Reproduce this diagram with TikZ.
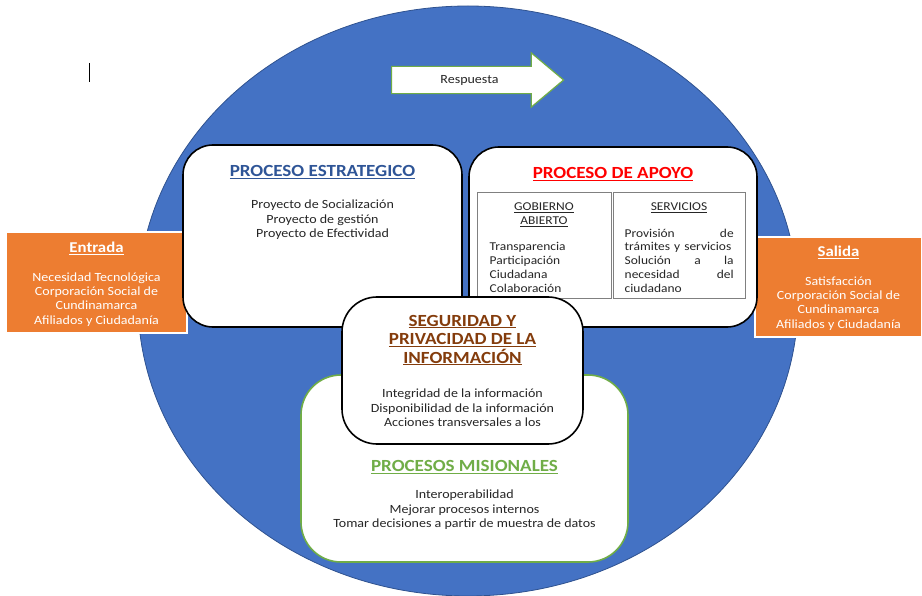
\documentclass[tikz,border=0pt]{standalone}
\usepackage{fontspec}
\setmainfont{Carlito}[FakeStretch=1.12]
\usetikzlibrary{positioning}
\usetikzlibrary{shapes.geometric}
\usetikzlibrary{shapes.arrows}
\definecolor{ringblue}{HTML}{4472C4}
\definecolor{ringedge}{HTML}{2F528F}
\definecolor{boxorange}{HTML}{ED7D31}
\definecolor{leafgreen}{HTML}{70AD47}
\definecolor{titleblue}{HTML}{2F5597}
\definecolor{titlebrown}{HTML}{843C0C}
\definecolor{bodygray}{HTML}{262626}

\begin{document}
\begin{tikzpicture}[x=1pt, y=-1pt,
					every node/.style={inner sep=0pt, text=bodygray, align=center,
						font=\fontsize{12.5}{14.3}\selectfont},
					ring/.style={ellipse, fill=ringblue, draw=ringedge, line width=0.8pt},
					procbox/.style={draw=black, line width=1.6pt, fill=white, rounded corners=30pt},
					sidebox/.style={draw=white, line width=1.5pt, fill=boxorange},
					cell/.style={draw=gray, line width=1pt},
					celltext/.style={font=\fontsize{12}{13.8}\selectfont},
					bigtitle/.style={font=\bfseries\fontsize{17}{18.5}\selectfont},
					sidetitle/.style={text=white, font=\bfseries\fontsize{15}{16}\selectfont},
					sidetext/.style={text=white}]
\clip (0,0) rectangle (922,596);
\node[ring, minimum width=660pt, minimum height=590pt] (ring) at (468,301) {};
\draw[line width=0.9pt] (89,63) -- (89,82);

% entrada y salida
\node[sidebox, minimum width=181pt, minimum height=101pt] (entrada) at (96.5,282.5) {};
\node[sidetitle, below=11pt of entrada.north] (entradaT) {\underline{Entrada}};
\node[sidetext, below=17pt of entradaT] (entradaB) {Necesidad Tecnológica\\Corporación Social de\\Cundinamarca\\Afiliados y Ciudadanía};
\node[sidebox, minimum width=167pt, minimum height=100pt] (salida) at (838.5,287) {};
\node[sidetitle, below=10pt of salida.north] (salidaT) {\underline{Salida}};
\node[sidetext, below=17pt of salidaT] (salidaB) {Satisfacción\\Corporación Social de\\Cundinamarca\\Afiliados y Ciudadanía};

% procesos
\node[procbox, minimum width=279pt, minimum height=182pt] (estrat) at (322.5,236) {};
\node[bigtitle, text=titleblue, below=21pt of estrat.north] (estratT) {\underline{PROCESO ESTRATEGICO}};
\node[below=21pt of estratT] (estratB) {Proyecto de Socialización\\Proyecto de gestión\\Proyecto de Efectividad};

\node[procbox, minimum width=288pt, minimum height=180pt] (apoyo) at (613,237) {};
\node[bigtitle, text=red, below=21pt of apoyo.north] (apoyoT) {\underline{PROCESO DE APOYO}};
\node[cell, minimum width=134pt, minimum height=106pt] (gob) at (544,246) {};
\node[celltext, below=10pt of gob.north] (gobT) {\underline{GOBIERNO}\\\underline{ABIERTO}};
\node[celltext, anchor=north west, align=left] (gobB) at ([xshift=13pt, yshift=-50pt]gob.north west) {Transparencia\\Participación\\Ciudadana\\Colaboración};
\node[cell, minimum width=132pt, minimum height=106pt] (serv) at (679,246) {};
\node[celltext, below=10pt of serv.north] (servT) {\underline{SERVICIOS}};
\node[celltext, anchor=north west, align=left, text width=109pt] (servB) at ([xshift=12pt, yshift=-36pt]serv.north west) {Provisión\hfill de\\trámites y servicios\\Solución\hfill a\hfill la\\necesidad\hfill del\\ciudadano};

\node[procbox, draw=leafgreen, rounded corners=40pt, minimum width=327pt, minimum height=187pt] (mision) at (464.5,468.5) {};
\node[bigtitle, text=leafgreen, below=86pt of mision.north] (misionT) {\underline{PROCESOS MISIONALES}};
\node[below=16pt of misionT] (misionB) {Interoperabilidad\\Mejorar procesos internos\\Tomar decisiones a partir de muestra de datos};

\node[procbox, rounded corners=35pt, minimum width=241pt, minimum height=147pt] (seg) at (462.5,370.5) {};
\node[bigtitle, text=titlebrown, below=18.5pt of seg.north] (segT) {\underline{SEGURIDAD Y}\\\underline{PRIVACIDAD DE LA}\\\underline{INFORMACIÓN}};
\node[below=23.5pt of segT] (segB) {Integridad de la información\\Disponibilidad de la información\\Acciones transversales a los};

% respuesta
\node[single arrow, draw=leafgreen, fill=white, line width=1.2pt, single arrow head extend=13.5pt,
	single arrow tip angle=80, minimum height=172pt, inner ysep=8pt,
	anchor=tail] (resp) at (391,80) {Respuesta};
\end{tikzpicture}
\end{document}
